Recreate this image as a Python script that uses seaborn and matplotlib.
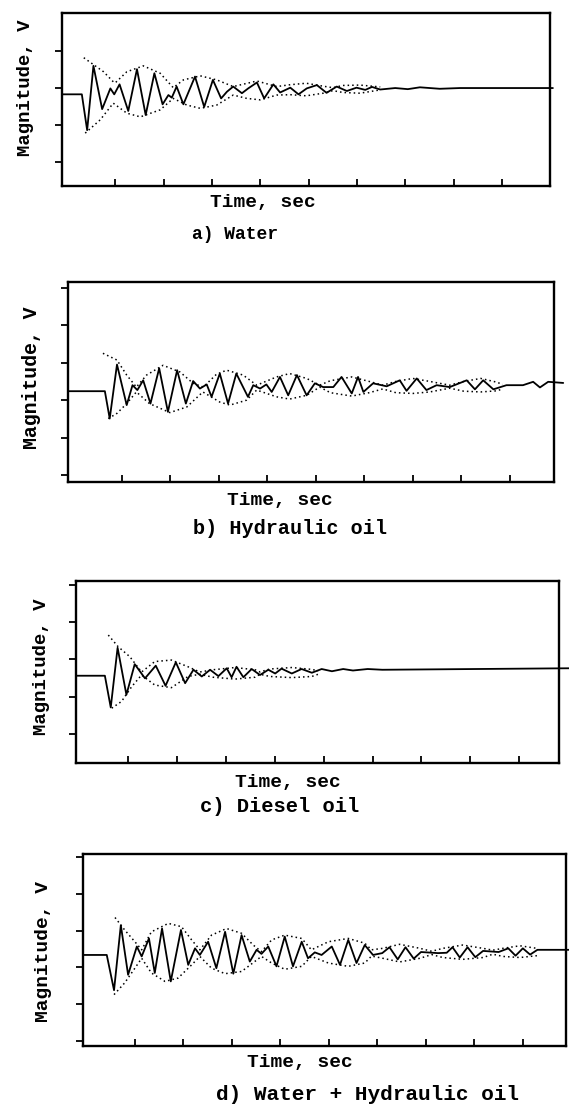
import matplotlib
matplotlib.use("Agg")
import matplotlib.pyplot as plt
import seaborn as sns

# ---------------- data (time in tick units, magnitude in tick units) ----------------
# a) Water
a_sig_t = [-0.10, 0.31, 0.42, 0.55, 0.73, 0.90, 0.98, 1.09, 1.27, 1.45, 1.63, 1.81, 1.98, 2.10, 2.17,
           2.27, 2.41, 2.65, 2.84, 3.02, 3.19, 3.31, 3.44, 3.62, 3.75, 3.93, 4.08, 4.27, 4.41, 4.62,
           4.79, 4.96, 5.17, 5.37, 5.58, 5.79, 5.99, 6.17, 6.31, 6.48, 6.79, 7.05, 7.30, 7.71, 8.13, 10.05]
a_sig_v = [2.83, 2.83, 1.86, 3.60, 2.43, 2.99, 2.83, 3.10, 2.38, 3.51, 2.27, 3.40, 2.56, 2.81, 2.74,
           3.04, 2.56, 3.31, 2.49, 3.22, 2.72, 2.90, 3.04, 2.86, 2.99, 3.15, 2.72, 3.10, 2.88, 3.01,
           2.83, 2.99, 3.08, 2.87, 3.04, 2.92, 3.01, 2.95, 3.03, 2.96, 3.00, 2.97, 3.02, 2.98, 3.00, 3.00]
a_up_t = [0.35, 0.76, 0.96, 1.00, 1.24, 1.58, 1.93, 2.20, 2.41, 2.76, 3.10, 3.44, 3.93, 4.34, 4.62,
          4.95, 5.30, 5.50, 5.71, 6.06, 6.48]
a_up_v = [3.82, 3.44, 3.17, 3.14, 3.44, 3.60, 3.40, 3.01, 3.22, 3.33, 3.22, 3.04, 3.19, 3.04, 3.09,
          3.13, 3.05, 3.01, 3.07, 3.08, 3.03]
a_lo_t = [0.38, 0.69, 0.96, 1.24, 1.52, 1.93, 2.20, 2.48, 2.76, 3.10, 3.44, 3.72, 4.00, 4.34, 4.62,
          4.95, 5.30, 5.50, 5.71, 6.06, 6.48]
a_lo_v = [1.78, 2.14, 2.59, 2.32, 2.22, 2.41, 2.72, 2.54, 2.45, 2.54, 2.81, 2.72, 2.68, 2.81, 2.82,
          2.79, 2.86, 2.93, 2.88, 2.86, 2.95]

# b) Hydraulic oil
b_sig_t = [-0.11, 0.65, 0.75, 0.90, 1.10, 1.22, 1.32, 1.44, 1.59, 1.77, 1.95, 2.14, 2.32, 2.47, 2.61,
           2.75, 2.85, 3.02, 3.19, 3.36, 3.60, 3.71, 3.85, 3.98, 4.09, 4.26, 4.43, 4.61, 4.81, 4.98,
           5.15, 5.36, 5.53, 5.74, 5.87, 5.98, 6.18, 6.46, 6.73, 6.87, 7.08, 7.28, 7.49, 7.76, 8.11,
           8.28, 8.45, 8.66, 8.93, 9.27, 9.48, 9.62, 9.79, 10.10]
b_sig_v = [3.24, 3.24, 2.51, 3.95, 2.87, 3.40, 3.27, 3.53, 2.91, 3.85, 2.69, 3.80, 2.91, 3.51, 3.31,
           3.42, 3.09, 3.71, 2.91, 3.71, 3.09, 3.40, 3.31, 3.42, 3.22, 3.62, 3.13, 3.67, 3.13, 3.45,
           3.35, 3.35, 3.62, 3.18, 3.62, 3.22, 3.45, 3.37, 3.53, 3.25, 3.58, 3.27, 3.40, 3.35, 3.53,
           3.29, 3.53, 3.29, 3.40, 3.40, 3.49, 3.34, 3.49, 3.46]
b_up_t = [0.61, 0.90, 1.10, 1.30, 1.51, 1.85, 2.20, 2.47, 2.68, 2.95, 3.16, 3.50, 3.78, 4.19, 4.46,
          4.81, 5.08, 5.30, 5.74, 6.10, 6.38, 6.65, 7.00, 7.35, 7.76, 8.05, 8.40, 8.73, 8.85]
b_up_v = [4.25, 4.07, 3.67, 3.35, 3.67, 3.93, 3.75, 3.45, 3.35, 3.69, 3.80, 3.67, 3.40, 3.62, 3.71,
          3.58, 3.40, 3.52, 3.62, 3.50, 3.40, 3.50, 3.58, 3.50, 3.40, 3.50, 3.58, 3.48, 3.42]
b_lo_t = [0.72, 0.90, 1.10, 1.30, 1.57, 1.99, 2.34, 2.67, 3.02, 3.23, 3.57, 3.78, 4.19, 4.46, 4.81,
          5.08, 5.30, 5.74, 6.10, 6.38, 6.65, 7.00, 7.35, 7.76, 8.05, 8.40, 8.73, 8.85]
b_lo_v = [2.51, 2.65, 2.91, 3.22, 2.91, 2.67, 2.82, 3.22, 2.95, 2.87, 3.00, 3.27, 3.09, 3.03, 3.13,
          3.35, 3.20, 3.11, 3.20, 3.30, 3.20, 3.18, 3.22, 3.32, 3.24, 3.22, 3.25, 3.30]

# c) Diesel oil
c_sig_t = [-0.06, 0.53, 0.65, 0.79, 0.97, 1.14, 1.35, 1.57, 1.77, 1.98, 2.17, 2.34, 2.51, 2.68, 2.85,
           3.02, 3.12, 3.22, 3.36, 3.53, 3.70, 3.87, 4.01, 4.14, 4.35, 4.55, 4.76, 4.96, 5.17, 5.40,
           5.60, 5.90, 6.20, 10.02]
c_sig_v = [2.56, 2.56, 1.71, 3.31, 2.05, 2.87, 2.49, 2.83, 2.29, 2.92, 2.36, 2.72, 2.54, 2.72, 2.55,
           2.76, 2.52, 2.80, 2.52, 2.74, 2.58, 2.72, 2.62, 2.75, 2.62, 2.74, 2.64, 2.74, 2.68, 2.74,
           2.70, 2.74, 2.72, 2.76]
c_up_t = [0.60, 0.80, 1.04, 1.28, 1.55, 1.89, 2.23, 2.47, 2.74, 3.19, 3.60, 3.70, 3.90, 4.35, 4.76, 4.89]
c_up_v = [3.65, 3.34, 3.07, 2.66, 2.94, 2.98, 2.80, 2.66, 2.72, 2.78, 2.72, 2.66, 2.74, 2.78, 2.73, 2.69]
c_lo_t = [0.67, 0.87, 1.08, 1.28, 1.55, 1.89, 2.23, 2.47, 2.74, 3.19, 3.60, 3.70, 3.90, 4.35, 4.76, 4.89]
c_lo_v = [1.69, 1.87, 2.27, 2.58, 2.31, 2.24, 2.54, 2.60, 2.52, 2.47, 2.52, 2.60, 2.54, 2.51, 2.54, 2.60]

# d) Water + Hydraulic oil
d_sig_t = [-0.07, 0.42, 0.57, 0.71, 0.86, 1.04, 1.14, 1.29, 1.41, 1.56, 1.74, 1.95, 2.10, 2.24, 2.34,
           2.51, 2.68, 2.86, 3.03, 3.20, 3.37, 3.51, 3.61, 3.75, 3.92, 4.09, 4.26, 4.44, 4.57, 4.71,
           4.85, 5.06, 5.23, 5.40, 5.57, 5.74, 5.91, 6.10, 6.25, 6.42, 6.58, 6.75, 6.90, 7.25, 7.43,
           7.55, 7.70, 7.86, 8.02, 8.18, 8.50, 8.70, 8.85, 9.00, 9.15, 9.30, 9.95]
d_sig_v = [3.34, 3.34, 2.38, 4.15, 2.80, 3.57, 3.30, 3.79, 2.85, 4.06, 2.62, 4.02, 3.07, 3.52, 3.34,
           3.70, 2.98, 3.97, 2.83, 3.88, 3.16, 3.48, 3.37, 3.57, 3.03, 3.84, 3.03, 3.70, 3.25, 3.41,
           3.34, 3.57, 3.07, 3.75, 3.12, 3.61, 3.34, 3.39, 3.55, 3.22, 3.55, 3.24, 3.42, 3.39, 3.40,
           3.55, 3.27, 3.55, 3.28, 3.45, 3.42, 3.52, 3.32, 3.52, 3.35, 3.48, 3.48]
d_up_t = [0.59, 0.79, 1.00, 1.14, 1.34, 1.69, 1.96, 2.17, 2.34, 2.58, 2.89, 3.20, 3.44, 3.61, 3.82,
          4.09, 4.44, 4.64, 4.99, 5.40, 5.74, 5.88, 6.11, 6.46, 6.88, 7.12, 7.35, 7.76, 8.18, 8.38,
          8.59, 8.94, 9.29]
d_up_v = [4.36, 4.02, 3.70, 3.48, 3.97, 4.20, 4.11, 3.75, 3.48, 3.88, 4.06, 3.93, 3.61, 3.43, 3.75,
          3.88, 3.79, 3.48, 3.70, 3.79, 3.66, 3.48, 3.52, 3.63, 3.52, 3.44, 3.52, 3.61, 3.52, 3.47,
          3.52, 3.59, 3.52]
d_lo_t = [0.57, 0.79, 1.00, 1.14, 1.34, 1.62, 1.89, 2.17, 2.34, 2.58, 2.86, 3.20, 3.47, 3.61, 3.82,
          4.09, 4.44, 4.64, 4.99, 5.40, 5.74, 5.88, 6.11, 6.46, 6.88, 7.12, 7.35, 7.76, 8.18, 8.38,
          8.59, 8.94, 9.29]
d_lo_v = [2.26, 2.58, 2.98, 3.25, 2.85, 2.62, 2.71, 3.07, 3.30, 2.98, 2.83, 2.89, 3.16, 3.30, 3.12,
          2.95, 3.03, 3.30, 3.12, 3.03, 3.12, 3.31, 3.25, 3.15, 3.25, 3.35, 3.27, 3.22, 3.27, 3.36,
          3.30, 3.27, 3.32]

x_ticks = [1, 2, 3, 4, 5, 6, 7, 8, 9]
captions = ["a) Water", "b) Hydraulic oil", "c) Diesel oil", "d) Water + Hydraulic oil"]
x_label = "Time, sec"
y_label = "Magnitude, V"

# ---------------- figure ----------------
sns.set_theme(style="ticks")
plt.rcParams["font.family"] = ["Liberation Mono", "DejaVu Sans Mono"]

W, H = 569, 1109
fig = plt.figure(figsize=(W / 100, H / 100), dpi=100)
fig.patch.set_facecolor("white")

panels = [
    dict(sig=(a_sig_t, a_sig_v), up=(a_up_t, a_up_v), lo=(a_lo_t, a_lo_v),
         box=(62, 550, 13, 186), xlim=(-0.10, 9.99), ylim=(0.35, 5.03), yticks=[1, 2, 3, 4],
         xlab=(263, 202), cap=(235, 235), ylab=(26, 88), capsize=13, labsize=14, ylsize=13.7),
    dict(sig=(b_sig_t, b_sig_v), up=(b_up_t, b_up_v), lo=(b_lo_t, b_lo_v),
         box=(68, 554, 282, 482), xlim=(-0.11, 9.91), ylim=(0.82, 6.15), yticks=[1, 2, 3, 4, 5, 6],
         xlab=(280, 500), cap=(290, 529), ylab=(32, 378), capsize=14.5, labsize=14, ylsize=14.3),
    dict(sig=(c_sig_t, c_sig_v), up=(c_up_t, c_up_v), lo=(c_lo_t, c_lo_v),
         box=(76, 559, 581, 763), xlim=(-0.06, 9.81), ylim=(0.22, 5.10), yticks=[1, 2, 3, 4, 5],
         xlab=(288, 782), cap=(280, 806), ylab=(42, 667), capsize=14.8, labsize=14, ylsize=13.7),
    dict(sig=(d_sig_t, d_sig_v), up=(d_up_t, d_up_v), lo=(d_lo_t, d_lo_v),
         box=(83, 566, 854, 1046), xlim=(-0.07, 9.89), ylim=(0.86, 6.09), yticks=[1, 2, 3, 4, 5, 6],
         xlab=(300, 1062), cap=(367, 1095), ylab=(43, 952), capsize=15.2, labsize=14, ylsize=14),
]

for i, p in enumerate(panels):
    l, r, t, b = p["box"]
    ax = fig.add_axes([l / W, 1 - b / H, (r - l) / W, (b - t) / H])
    ax.set_facecolor("white")

    sns.lineplot(x=p["up"][0], y=p["up"][1], ax=ax, color="black", linewidth=1.1,
                 linestyle=(0, (1, 2)), sort=False, estimator=None)
    sns.lineplot(x=p["lo"][0], y=p["lo"][1], ax=ax, color="black", linewidth=1.1,
                 linestyle=(0, (1, 2)), sort=False, estimator=None)
    sns.lineplot(x=p["sig"][0], y=p["sig"][1], ax=ax, color="black", linewidth=1.3,
                 sort=False, estimator=None, solid_joinstyle="round")
    ax.lines[-1].set_clip_on(False)

    ax.set_xlim(*p["xlim"])
    ax.set_ylim(*p["ylim"])
    ax.set_xticks(x_ticks)
    ax.set_yticks(p["yticks"])
    ax.set_xticklabels([])
    ax.set_yticklabels([])
    ax.tick_params(axis="x", direction="in", length=5, width=1.3, color="black")
    ax.tick_params(axis="y", direction="out", length=5, width=1.3, color="black")
    for s in ax.spines.values():
        s.set_visible(True)
        s.set_color("black")
        s.set_linewidth(1.7)
    ax.set_xlabel("")
    ax.set_ylabel("")

    fig.text(p["xlab"][0] / W, 1 - p["xlab"][1] / H, x_label, ha="center", va="center",
             fontsize=p["labsize"], fontweight="bold", color="black")
    fig.text(p["cap"][0] / W, 1 - p["cap"][1] / H, captions[i], ha="center", va="center",
             fontsize=p["capsize"], fontweight="bold", color="black")
    fig.text(p["ylab"][0] / W, 1 - p["ylab"][1] / H, y_label, ha="center", va="center",
             rotation=90, fontsize=p["ylsize"], fontweight="bold", color="black")

fig.savefig("out.png", dpi=100, facecolor="white")
